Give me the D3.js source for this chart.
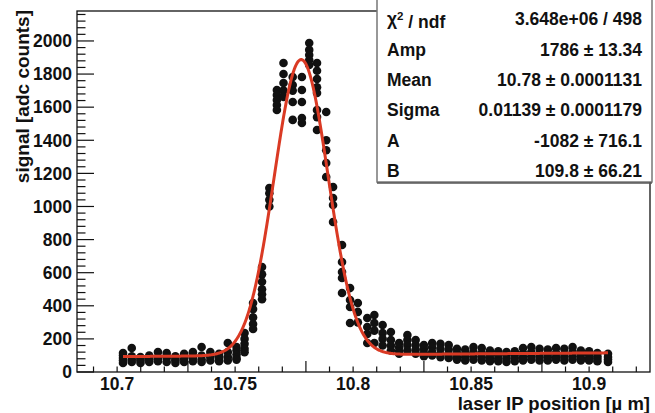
<!DOCTYPE html>
<html>
<head>
<meta charset="utf-8">
<script src="https://cdn.jsdelivr.net/npm/d3@7"></script>
<style>
  body { margin: 0; background: #fff; }
  svg { display: block; }
  text { font-family: "Liberation Sans", Arial, Helvetica, sans-serif; font-weight: bold; fill: #111; }
</style>
</head>
<body>
<svg width="655" height="413"></svg>
<script>
// scan positions (laser IP position, um) and the signal samples taken at each
var scanX = [10.7025, 10.7062, 10.7099, 10.7136, 10.7173, 10.721, 10.7247, 10.7284, 10.7321, 10.7358,
  10.7395, 10.7432, 10.7469, 10.7506, 10.754, 10.7576, 10.7614, 10.7645, 10.7677, 10.7705,
  10.7744, 10.7783, 10.7814, 10.7847, 10.7886, 10.7915, 10.7953, 10.7987, 10.802, 10.806,
  10.809, 10.8125, 10.816, 10.8195, 10.823, 10.8265, 10.83, 10.8335, 10.837, 10.8405,
  10.844, 10.8475, 10.851, 10.8545, 10.858, 10.8615, 10.865, 10.8685, 10.872, 10.8755,
  10.879, 10.8825, 10.886, 10.8895, 10.893, 10.8965, 10.9, 10.9035, 10.908];

var scanY = [
  [115, 85, 54, 70, 100], [145, 95, 75, 60], [90, 70, 55, 80], [100, 75, 60, 85], [121, 90, 65, 75],
  [115, 85, 60, 95], [95, 70, 55, 80], [110, 80, 60, 90], [120, 85, 65, 95], [151, 100, 75, 60],
  [121, 90, 70, 100], [110, 85, 65, 95], [175, 120, 90, 70], [151, 130, 105, 85, 75], [235, 200, 170, 140, 120],
  [417, 380, 330, 290, 260], [634, 590, 545, 500, 470, 440], [1112, 1080, 1040, 1000], [1704, 1674, 1643, 1613, 1583], [1867, 1800, 1746, 1700, 1662],
  [1782, 1734, 1700, 1631, 1523], [1782, 1704, 1631, 1535, 1505], [1988, 1946, 1915, 1885, 1855], [1867, 1820, 1770, 1720, 1686, 1583, 1540, 1462], [1571, 1400, 1340, 1263, 1178],
  [1118, 1051, 1009, 906], [767, 665, 604, 568, 477], [507, 435, 393, 296], [417, 363, 300], [326, 272, 230, 175],
  [344, 296, 250, 175], [284, 236, 200, 160], [242, 193, 160, 130], [175, 150, 125, 110], [223, 193, 163, 130],
  [193, 163, 135, 110], [163, 140, 115, 95], [175, 150, 120, 100], [170, 140, 110, 90], [163, 135, 105, 85],
  [140, 115, 90, 75], [135, 110, 90, 70], [151, 120, 95, 75], [145, 115, 90, 70], [130, 105, 85, 65],
  [125, 100, 80, 65], [120, 100, 80, 60], [125, 105, 85, 65], [145, 115, 90, 70], [151, 120, 95, 75],
  [140, 110, 90, 70], [135, 110, 90, 70], [145, 115, 90, 75], [140, 110, 90, 70], [151, 120, 95, 75],
  [130, 105, 85, 70], [125, 105, 85, 70], [115, 95, 80, 65], [110, 91, 75, 60]
];

// fit: Amp*gaus(Mean,Sigma) + A + B*x   (mean kept to more digits than printed)
var fitAmp = 1786, fitMean = 10.778, fitSigma = 0.01139, fitA = -1082, fitB = 109.8;
var fitRange = [10.7025, 10.908];

var statNames = ["χ2 / ndf", "Amp", "Mean", "Sigma", "A", "B"];
var statValues = ["3.648e+06 / 498", "1786 ± 13.34", "10.78 ± 0.0001131", "0.01139 ± 0.0001179", "-1082 ± 716.1", "109.8 ± 66.21"];

var xTicks = [10.7, 10.75, 10.8, 10.85, 10.9];
var yTicks = [0, 200, 400, 600, 800, 1000, 1200, 1400, 1600, 1800, 2000];

var svg = d3.select("svg");
var frameL = 77, frameR = 650, frameT = 11, frameB = 372;

var x = d3.scaleLinear().domain([10.683, 10.9258]).range([frameL, frameR]);
var y = d3.scaleLinear().domain([0, 2181]).range([frameB, frameT]);

// frame
svg.append("rect")
  .attr("x", frameL).attr("y", frameT)
  .attr("width", frameR - frameL).attr("height", frameB - frameT)
  .attr("fill", "#fff").attr("stroke", "#111").attr("stroke-width", 1.3);

// y axis ticks (inside)
var yMinor = d3.range(0, 2181, 40);
svg.append("g").selectAll("line").data(yMinor).enter().append("line")
  .attr("x1", frameL).attr("x2", function(d) { return frameL + (d % 200 == 0 ? 17 : 8.5); })
  .attr("y1", function(d) { return y(d); }).attr("y2", function(d) { return y(d); })
  .attr("stroke", "#111").attr("stroke-width", 1.2);

svg.append("g").selectAll("text").data(yTicks).enter().append("text")
  .attr("x", frameL - 5).attr("y", function(d) { return y(d); })
  .attr("dy", "0.36em")
  .attr("text-anchor", "end")
  .style("font-size", "17.5px")
  .text(function(d) { return d; });

// x axis ticks (inside)
var xMinor = d3.range(10.69, 10.926, 0.01);
svg.append("g").selectAll("line").data(xMinor).enter().append("line")
  .attr("x1", function(d) { return x(d); }).attr("x2", function(d) { return x(d); })
  .attr("y1", frameB).attr("y2", function(d, i) { return frameB - ((i + 1) % 5 == 0 ? 11 : 5.5); })
  .attr("stroke", "#111").attr("stroke-width", 1.2);

svg.append("g").selectAll("text").data(xTicks).enter().append("text")
  .attr("x", function(d) { return x(d); }).attr("y", 390)
  .attr("text-anchor", "middle")
  .style("font-size", "17.5px")
  .text(function(d) { return d; });

// axis titles
svg.append("text")
  .attr("x", frameR).attr("y", 410)
  .attr("text-anchor", "end")
  .style("font-size", "18.5px")
  .text("laser IP position [µ m]");

svg.append("text")
  .attr("transform", "translate(29,10) rotate(-90)")
  .attr("text-anchor", "end")
  .style("font-size", "19px")
  .text("signal [adc counts]");

// data points
var points = [];
scanX.forEach(function(sx, i) {
  scanY[i].forEach(function(v) { points.push([sx, v]); });
});

svg.append("g").selectAll("circle").data(points).enter().append("circle")
  .attr("cx", function(d) { return x(d[0]); })
  .attr("cy", function(d) { return y(d[1]); })
  .attr("r", 4.3)
  .attr("fill", "#111");

// fit curve
function fitFunc(v) {
  var t = (v - fitMean) / fitSigma;
  return fitAmp * Math.exp(-0.5 * t * t) + fitA + fitB * v;
}
var curve = d3.range(fitRange[0], fitRange[1], 0.0002).concat([fitRange[1]]);
svg.append("path")
  .datum(curve)
  .attr("d", d3.line().x(function(d) { return x(d); }).y(function(d) { return y(fitFunc(d)); }))
  .attr("fill", "none")
  .attr("stroke", "#da3a24")
  .attr("stroke-width", 3);

// stats box
var box = svg.append("g");
box.append("rect")
  .attr("x", 377).attr("y", -2).attr("width", 275).attr("height", 184)
  .attr("fill", "#fff").attr("stroke", "#777").attr("stroke-width", 1.5);
box.append("line")
  .attr("x1", 377).attr("x2", 652).attr("y1", 183).attr("y2", 183)
  .attr("stroke", "#555").attr("stroke-width", 1.5);

var rowY = function(i) { return 19 + i * 30.3; };
var names = box.selectAll(".sname").data(statNames).enter().append("text")
  .attr("class", "sname")
  .attr("x", 387).attr("y", function(d, i) { return rowY(i); })
  .attr("dy", "0.36em")
  .style("font-size", "17.5px");
names.each(function(d) {
  var t = d3.select(this);
  if (d.indexOf("χ2") == 0) {
    t.append("tspan").text("χ");
    t.append("tspan").attr("dy", "-0.45em").style("font-size", "11.5px").text("2");
    t.append("tspan").attr("dy", "0.45em").text(" / ndf");
  } else {
    t.text(d);
  }
});

box.selectAll(".sval").data(statValues).enter().append("text")
  .attr("class", "sval")
  .attr("x", 642).attr("y", function(d, i) { return rowY(i); })
  .attr("dy", "0.36em")
  .attr("text-anchor", "end")
  .style("font-size", "17.5px")
  .text(function(d) { return d; });
</script>
</body>
</html>
